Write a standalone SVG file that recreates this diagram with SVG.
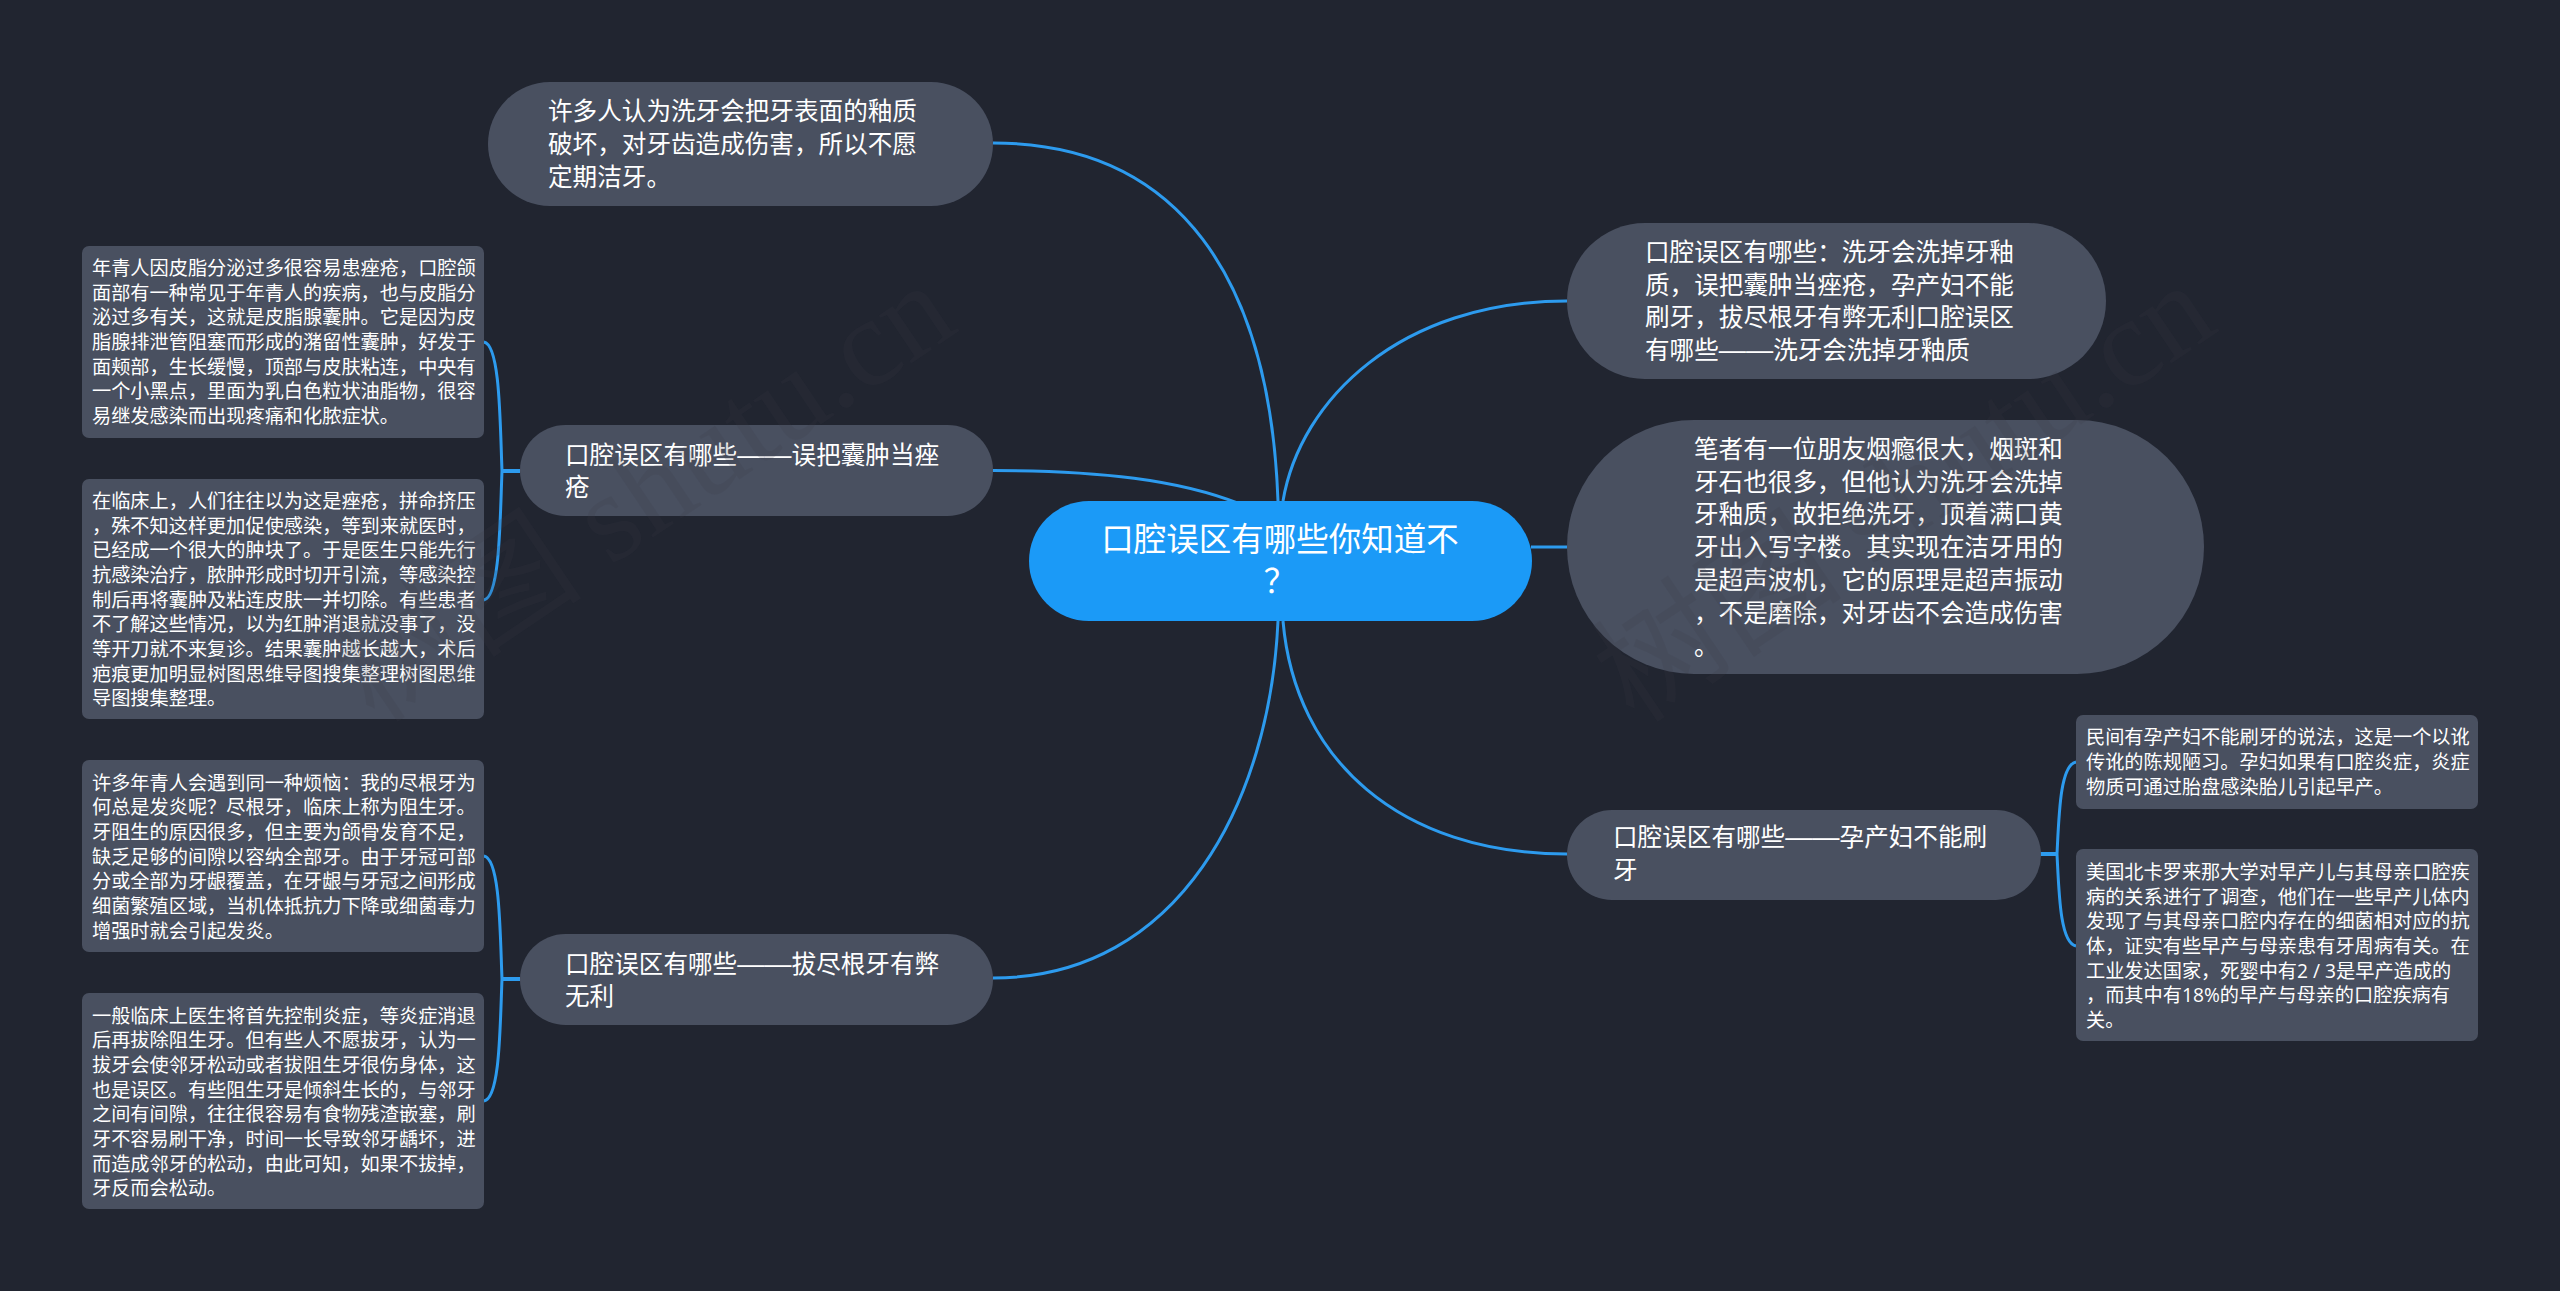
<svg xmlns="http://www.w3.org/2000/svg" width="2560" height="1291" viewBox="0 0 2560 1291">
<style>
text{font-family:"Noto Sans CJK SC","Noto Sans",sans-serif;fill:#fff}
.b{fill:#495060}
.c{fill:#1b9af7}
.e{fill:none;stroke:#2d9bee;stroke-width:3}
.h{fill:none;stroke:#2d9bee;stroke-width:4}
.m{font-size:24.6px}
.s{font-size:19.2px}
.t{font-size:32.5px;text-anchor:middle}
.d{font-family:"Liberation Sans","Noto Sans CJK SC",sans-serif;font-size:27.2px}
.l{font-family:"Open Sans","Noto Sans CJK SC",sans-serif}
.w{font-size:126px;font-family:"Liberation Serif","Noto Sans CJK SC",serif;fill:#3c3e46;fill-opacity:.17}
</style>
<rect width="2560" height="1291" fill="#212530"/>
<g id="connectors">
<path class="e" d="M993 143C1180 143 1270 280 1278 501"/>
<path class="e" d="M993 470.500C1100 470.500 1180 480 1240 504"/>
<path class="e" d="M1278 621C1270 800 1180 978 993 978"/>
<path class="e" d="M1283 501C1300 400 1400 301 1567 301"/>
<path class="e" d="M1531 547H1567"/>
<path class="e" d="M1283 621C1295 760 1400 854 1567 854"/>
<path class="h" d="M520 471H502"/>
<path class="e" d="M484 342C500 345 500 420 502 471C500 520 500 597 484 600"/>
<path class="h" d="M520 979H502"/>
<path class="e" d="M484 856C500 859 500 930 502 979C500 1028 500 1098 484 1101"/>
<path class="h" d="M2040 854H2057"/>
<path class="e" d="M2076 762C2060 765 2059 815 2057 854C2059 893 2060 943 2076 946"/>
</g>
<g id="center"><rect class="c" x="1029" y="501" width="503" height="120" rx="60"/>
<text class="t" x="1280" y="551">口腔误区有哪些你知道不</text><text class="t" x="1280" y="593">？</text></g>
<g id="n1"><rect class="b" x="488" y="82" width="505" height="124" rx="62"/>
<text class="m"><tspan x="548" y="120">许多人认为洗牙会把牙表面的釉质</tspan><tspan x="548" y="153">破坏，对牙齿造成伤害，所以不愿</tspan><tspan x="548" y="186">定期洁牙。</tspan></text></g>
<g id="n2"><rect class="b" x="520" y="425" width="473" height="91" rx="45.5"/>
<text class="m"><tspan x="565" y="464">口腔误区有哪些<tspan class="d">——</tspan>误把囊肿当痤</tspan><tspan x="565" y="496">疮</tspan></text></g>
<g id="n3"><rect class="b" x="520" y="934" width="473" height="91" rx="45.5"/>
<text class="m"><tspan x="565" y="973">口腔误区有哪些<tspan class="d">——</tspan>拔尽根牙有弊</tspan><tspan x="565" y="1005">无利</tspan></text></g>
<g id="n4"><rect class="b" x="1567" y="223" width="539" height="156" rx="78"/>
<text class="m"><tspan x="1645" y="261">口腔误区有哪些：洗牙会洗掉牙釉</tspan><tspan x="1645" y="294">质，误把囊肿当痤疮，孕产妇不能</tspan><tspan x="1645" y="326">刷牙，拔尽根牙有弊无利口腔误区</tspan><tspan x="1645" y="359">有哪些<tspan class="d">——</tspan>洗牙会洗掉牙釉质</tspan></text></g>
<g id="n5"><rect class="b" x="1567" y="420" width="637" height="254" rx="127"/>
<text class="m"><tspan x="1694" y="458">笔者有一位朋友烟瘾很大，烟斑和</tspan><tspan x="1694" y="491">牙石也很多，但他认为洗牙会洗掉</tspan><tspan x="1694" y="523">牙釉质，故拒绝洗牙，顶着满口黄</tspan><tspan x="1694" y="556">牙出入写字楼。其实现在洁牙用的</tspan><tspan x="1694" y="589">是超声波机，它的原理是超声振动</tspan><tspan x="1694" y="622">，不是磨除，对牙齿不会造成伤害</tspan><tspan x="1694" y="655">。</tspan></text></g>
<g id="n6"><rect class="b" x="1567" y="810" width="474" height="90" rx="45"/>
<text class="m"><tspan x="1613" y="846">口腔误区有哪些<tspan class="d">——</tspan>孕产妇不能刷</tspan><tspan x="1613" y="879">牙</tspan></text></g>
<g id="l1"><rect class="b" x="82" y="246" width="402" height="192" rx="7"/>
<text class="s"><tspan x="92" y="275">年青人因皮脂分泌过多很容易患痤疮，口腔颌</tspan><tspan x="92" y="300">面部有一种常见于年青人的疾病，也与皮脂分</tspan><tspan x="92" y="324">泌过多有关，这就是皮脂腺囊肿。它是因为皮</tspan><tspan x="92" y="349">脂腺排泄管阻塞而形成的潴留性囊肿，好发于</tspan><tspan x="92" y="374">面颊部，生长缓慢，顶部与皮肤粘连，中央有</tspan><tspan x="92" y="398">一个小黑点，里面为乳白色粒状油脂物，很容</tspan><tspan x="92" y="423">易继发感染而出现疼痛和化脓症状。</tspan></text></g>
<g id="l2"><rect class="b" x="82" y="479" width="402" height="240" rx="7"/>
<text class="s"><tspan x="92" y="508">在临床上，人们往往以为这是痤疮，拼命挤压</tspan><tspan x="92" y="533">，殊不知这样更加促使感染，等到来就医时，</tspan><tspan x="92" y="557">已经成一个很大的肿块了。于是医生只能先行</tspan><tspan x="92" y="582">抗感染治疗，脓肿形成时切开引流，等感染控</tspan><tspan x="92" y="607">制后再将囊肿及粘连皮肤一并切除。有些患者</tspan><tspan x="92" y="631">不了解这些情况，以为红肿消退就没事了，没</tspan><tspan x="92" y="656">等开刀就不来复诊。结果囊肿越长越大，术后</tspan><tspan x="92" y="681">疤痕更加明显树图思维导图搜集整理树图思维</tspan><tspan x="92" y="705">导图搜集整理。</tspan></text></g>
<g id="l3"><rect class="b" x="82" y="760" width="402" height="192" rx="7"/>
<text class="s"><tspan x="92" y="790">许多年青人会遇到同一种烦恼：我的尽根牙为</tspan><tspan x="92" y="814">何总是发炎呢？尽根牙，临床上称为阻生牙。</tspan><tspan x="92" y="839">牙阻生的原因很多，但主要为颌骨发育不足，</tspan><tspan x="92" y="864">缺乏足够的间隙以容纳全部牙。由于牙冠可部</tspan><tspan x="92" y="888">分或全部为牙龈覆盖，在牙龈与牙冠之间形成</tspan><tspan x="92" y="913">细菌繁殖区域，当机体抵抗力下降或细菌毒力</tspan><tspan x="92" y="938">增强时就会引起发炎。</tspan></text></g>
<g id="l4"><rect class="b" x="82" y="993" width="402" height="216" rx="7"/>
<text class="s"><tspan x="92" y="1023">一般临床上医生将首先控制炎症，等炎症消退</tspan><tspan x="92" y="1047">后再拔除阻生牙。但有些人不愿拔牙，认为一</tspan><tspan x="92" y="1072">拔牙会使邻牙松动或者拔阻生牙很伤身体，这</tspan><tspan x="92" y="1097">也是误区。有些阻生牙是倾斜生长的，与邻牙</tspan><tspan x="92" y="1121">之间有间隙，往往很容易有食物残渣嵌塞，刷</tspan><tspan x="92" y="1146">牙不容易刷干净，时间一长导致邻牙龋坏，进</tspan><tspan x="92" y="1171">而造成邻牙的松动，由此可知，如果不拔掉，</tspan><tspan x="92" y="1195">牙反而会松动。</tspan></text></g>
<g id="r1"><rect class="b" x="2076" y="715" width="402" height="94" rx="7"/>
<text class="s"><tspan x="2086" y="744">民间有孕产妇不能刷牙的说法，这是一个以讹</tspan><tspan x="2086" y="769">传讹的陈规陋习。孕妇如果有口腔炎症，炎症</tspan><tspan x="2086" y="794">物质可通过胎盘感染胎儿引起早产。</tspan></text></g>
<g id="r2"><rect class="b" x="2076" y="849" width="402" height="192" rx="7"/>
<text class="s"><tspan x="2086" y="879">美国北卡罗来那大学对早产儿与其母亲口腔疾</tspan><tspan x="2086" y="904">病的关系进行了调查，他们在一些早产儿体内</tspan><tspan x="2086" y="928">发现了与其母亲口腔内存在的细菌相对应的抗</tspan><tspan x="2086" y="953">体，证实有些早产与母亲患有牙周病有关。在</tspan><tspan x="2086" y="978">工业发达国家，死婴中有<tspan class="l">2 / 3</tspan>是早产造成的</tspan><tspan x="2086" y="1002">，而其中有<tspan class="l">18%</tspan>的早产与母亲的口腔疾病有</tspan><tspan x="2086" y="1027">关。</tspan></text></g>
<g id="watermarks">
<text class="w" transform="translate(375 725) rotate(-34)">树图 shutu.cn</text>
<text class="w" transform="translate(1635 725) rotate(-34)">树图 shutu.cn</text>
</g>
</svg>
